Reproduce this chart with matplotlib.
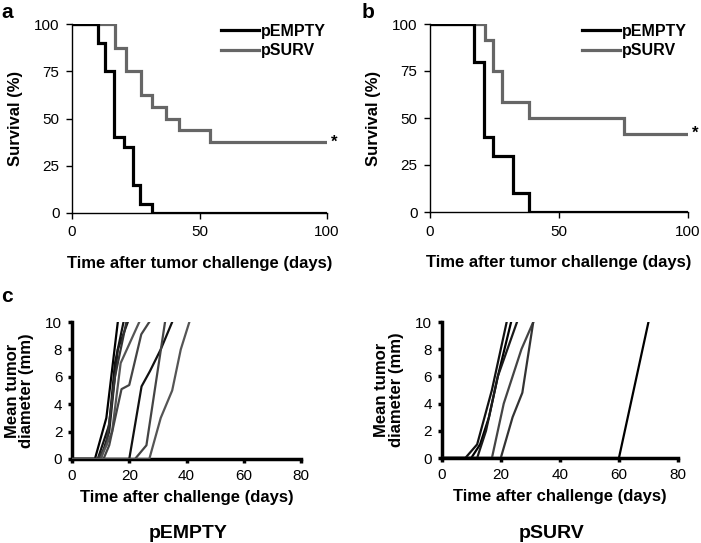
import matplotlib
matplotlib.use("Agg")
import matplotlib.pyplot as plt

plt.rcParams['font.family'] = ['Liberation Sans', 'DejaVu Sans']

# ---- Data: panel a (survival) ----
a_empty_t = [0, 10, 13, 16.5, 20.5, 24, 26.5, 31.5, 100]
a_empty_s = [100, 90, 75, 40, 35, 15, 5, 0, 0]
a_surv_t = [0, 17, 21, 27, 31.5, 37, 42, 54, 100]
a_surv_s = [100, 87.5, 75, 62.5, 56.25, 50, 43.75, 37.5, 37.5]

# ---- Data: panel b (survival) ----
b_empty_t = [0, 17, 21, 24.5, 32, 38.5, 100]
b_empty_s = [100, 80, 40, 30, 10, 0, 0]
b_surv_t = [0, 21.5, 24.5, 28, 38.5, 75, 100]
b_surv_s = [100, 91.67, 75, 58.33, 50, 41.67, 41.67]

# ---- Data: panel c (tumor growth per mouse) ----
c_empty_x = [
    [0, 8, 12, 16],
    [0, 9, 13, 15, 18],
    [0, 10, 13, 16, 19.5],
    [0, 9, 12, 15, 19],
    [0, 10, 14, 17, 23.5],
    [0, 11, 13, 17.3, 20, 24.2, 27],
    [0, 20, 24.3, 27.2, 31, 35],
    [0, 22, 26, 32.5],
    [0, 27, 31, 35, 38, 41],
]
c_empty_y = [
    [0, 0, 3, 10],
    [0, 0, 2.5, 7, 10],
    [0, 0, 2, 8, 10],
    [0, 0, 1, 6, 10],
    [0, 0, 2, 7, 10],
    [0, 0, 1, 5.1, 5.4, 9.1, 10],
    [0, 0, 5.3, 6.4, 8, 10],
    [0, 0, 1, 10],
    [0, 0, 3, 5, 8, 10],
]
c_empty_col = ['#000000', '#111111', '#1a1a1a', '#333333', '#555555',
               '#444444', '#111111', '#444444', '#555555']

c_surv_x = [
    [0, 8, 12, 17, 22],
    [0, 10, 13, 16, 19, 23.5],
    [0, 12, 15, 19, 25.5],
    [0, 17, 21, 27, 31],
    [0, 20, 24, 27.3, 31],
    [0, 60, 70],
]
c_surv_y = [
    [0, 0, 1, 5, 10],
    [0, 0, 1, 3, 6, 10],
    [0, 0, 2, 6, 10],
    [0, 0, 4, 8, 10],
    [0, 0, 3, 4.8, 10],
    [0, 0, 10],
]
c_surv_col = ['#111111', '#000000', '#1a1a1a', '#444444', '#333333', '#000000']

GRAY = '#666666'
TICK_FS = 11
LAB_FS = 12

fig = plt.figure(figsize=(7.01, 5.43), dpi=100)


def surv_axes(rect, et, es, st, ss):
    ax = fig.add_axes(rect)
    ax.step(et, es, where='post', color='black', lw=2.3, label='pEMPTY',
            solid_joinstyle='miter', zorder=3)
    ax.step(st, ss, where='post', color=GRAY, lw=2.3, label='pSURV',
            solid_joinstyle='miter', zorder=2)
    ax.set_xlim(0, 100)
    ax.set_ylim(0, 100)
    ax.set_xticks([0, 50, 100])
    ax.set_yticks([0, 25, 50, 75, 100])
    for s in ['top', 'right']:
        ax.spines[s].set_visible(False)
    for s in ['left', 'bottom']:
        ax.spines[s].set_linewidth(1.0)
    ax.tick_params(direction='out', length=4, width=1, labelsize=TICK_FS, pad=5)
    ax.set_xlabel('Time after tumor challenge (days)', fontsize=LAB_FS,
                  fontweight='bold', labelpad=12)
    ax.set_ylabel('Survival (%)', fontsize=LAB_FS, fontweight='bold', labelpad=8)
    ax.text(101.5, ss[-1], '*', fontsize=12, fontweight='bold', va='center',
            ha='left', clip_on=False)
    leg = ax.legend(loc='upper right', frameon=False, fontsize=11.5,
                    handlelength=2.4, handletextpad=0.1, labelspacing=0.28,
                    borderaxespad=0.0, bbox_to_anchor=(1.02, 1.035))
    for t in leg.get_texts():
        t.set_fontweight('bold')
    return ax


ax_a = surv_axes([72 / 701, 1 - 213 / 543, 255 / 701, 189 / 543],
                 a_empty_t, a_empty_s, a_surv_t, a_surv_s)
ax_b = surv_axes([430 / 701, 1 - 212 / 543, 258 / 701, 188 / 543],
                 b_empty_t, b_empty_s, b_surv_t, b_surv_s)


def growth_axes(rect, xs, ys, cols):
    ax = fig.add_axes(rect)
    for x, y, c in zip(xs, ys, cols):
        ax.plot(x, y, color=c, lw=1.6, zorder=3)
    ax.set_xlim(0, 80)
    ax.set_ylim(0, 10)
    ax.set_xticks([0, 20, 40, 60, 80])
    ax.set_yticks([0, 2, 4, 6, 8, 10])
    for s in ['top', 'right']:
        ax.spines[s].set_visible(False)
    for s in ['left', 'bottom']:
        ax.spines[s].set_linewidth(2.5)
    ax.tick_params(direction='out', length=3, width=2.5, labelsize=TICK_FS, pad=4)
    ax.set_xlabel('Time after challenge (days)', fontsize=LAB_FS,
                  fontweight='bold', labelpad=5)
    ax.set_ylabel('Mean tumor\ndiameter (mm)', fontsize=LAB_FS,
                  fontweight='bold', labelpad=8, linespacing=0.95)
    return ax


ax_c1 = growth_axes([72 / 701, 1 - 459 / 543, 229 / 701, 137 / 543],
                    c_empty_x, c_empty_y, c_empty_col)
ax_c2 = growth_axes([441.7 / 701, 1 - 458 / 543, 236.3 / 701, 136 / 543],
                    c_surv_x, c_surv_y, c_surv_col)

fig.text(188 / 701, 1 - 533 / 543, 'pEMPTY', fontsize=14, fontweight='bold',
         ha='center', va='center')
fig.text(552 / 701, 1 - 533 / 543, 'pSURV', fontsize=14, fontweight='bold',
         ha='center', va='center')

fig.text(1 / 701, 1 - 12 / 543, 'a', fontsize=15, fontweight='bold',
         ha='left', va='center')
fig.text(362 / 701, 1 - 12 / 543, 'b', fontsize=15, fontweight='bold',
         ha='left', va='center')
fig.text(1 / 701, 1 - 297 / 543, 'c', fontsize=15, fontweight='bold',
         ha='left', va='center')

fig.savefig('out.png', dpi=100)
